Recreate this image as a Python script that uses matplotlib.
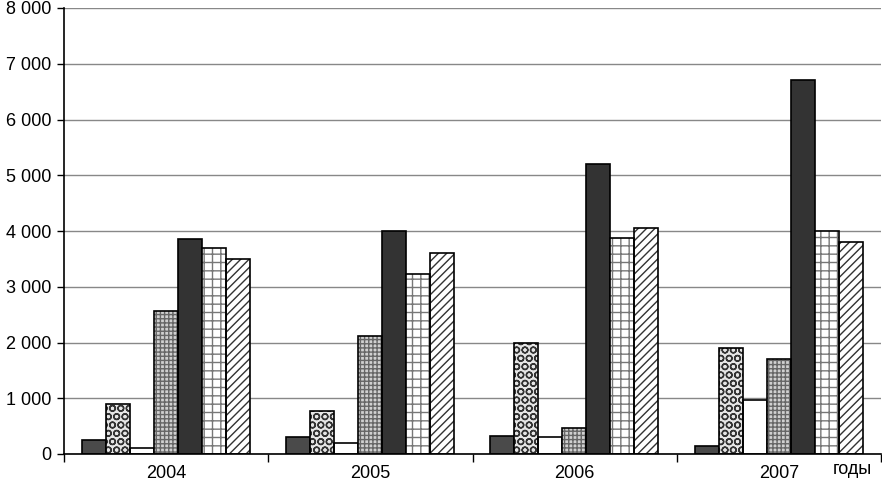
import matplotlib
matplotlib.use("Agg")
import matplotlib.pyplot as plt
import numpy as np

plt.rcParams['font.family'] = ['Liberation Sans', 'DejaVu Sans']
plt.rcParams['hatch.linewidth'] = 1.0

years = ["2004", "2005", "2006", "2007"]
s1 = [250, 300, 320, 140]
s2 = [900, 770, 2000, 1900]
s3 = [100, 200, 310, 970]
s4 = [2560, 2120, 460, 1700]
s5 = [3850, 4000, 5200, 6700]
s6 = [3700, 3220, 3880, 4000]
s7 = [3500, 3600, 4050, 3800]
series = [s1, s2, s3, s4, s5, s6, s7]
yticks = [0, 1000, 2000, 3000, 4000, 5000, 6000, 7000, 8000]
ytick_labels = ["0", "1 000", "2 000", "3 000", "4 000", "5 000", "6 000", "7 000", "8 000"]
x_unit = "годы"

styles = [
    dict(face="#4a4a4a", hatch=None, hcolor=None),
    dict(face="#e6e6e6", hatch="OO", hcolor="#333333"),
    dict(face="white", hatch=None, hcolor=None),
    dict(face="#d0d0d0", hatch="++++", hcolor="#666666"),
    dict(face="#333333", hatch=None, hcolor=None),
    dict(face="white", hatch="++", hcolor="#777777"),
    dict(face="white", hatch="////", hcolor="#333333"),
]

fig = plt.figure(figsize=(8.82, 4.84), dpi=100)
ax = fig.add_axes([64/882, 1-454/484, 817/882, 446/484])

n = len(years)
w = 24/204.5
off = 18/204.5
x0 = np.arange(n)
for i, (vals, st) in enumerate(zip(series, styles)):
    xs = x0 + off + i*w
    if st["hatch"]:
        ax.bar(xs, vals, width=w, align='edge', color=st["face"], hatch=st["hatch"],
               edgecolor=st["hcolor"], linewidth=0, zorder=3)
        ax.bar(xs, vals, width=w, align='edge', fill=False, edgecolor="black",
               linewidth=1.2, zorder=4)
    else:
        ax.bar(xs, vals, width=w, align='edge', color=st["face"], edgecolor="black",
               linewidth=1.2, zorder=3)

ax.set_xlim(0, n)
ax.set_ylim(0, 8000)
ax.set_yticks(yticks)
ax.set_yticklabels(ytick_labels, fontsize=13)
ax.set_xticks(x0 + 0.5)
ax.set_xticklabels(years, fontsize=13)
ax.set_xticks(np.arange(n+1), minor=True)
ax.tick_params(axis='x', which='major', length=0, pad=8)
ax.tick_params(axis='x', which='minor', length=6, width=1, direction='out')
ax.tick_params(axis='y', length=5, width=1, direction='out', pad=4)
ax.grid(axis='y', color='#888888', linewidth=1, zorder=0)
for sp in ['top', 'right']:
    ax.spines[sp].set_visible(False)
for sp in ['left', 'bottom']:
    ax.spines[sp].set_linewidth(1.2)
    ax.spines[sp].set_zorder(5)

fig.text(852/882, 1-469/484, x_unit, fontsize=13, ha='center', va='center')

fig.savefig("out.png", dpi=100)
